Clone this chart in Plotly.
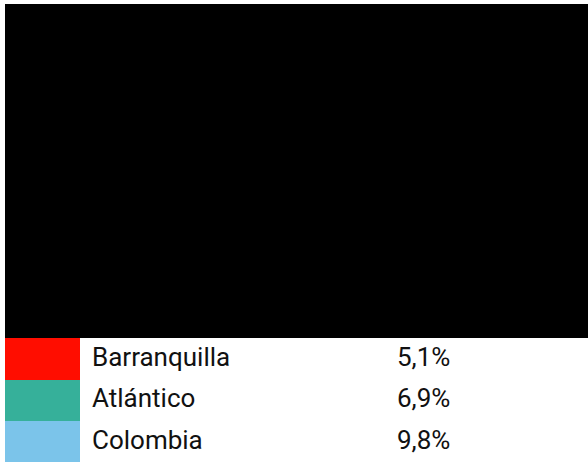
import plotly.graph_objects as go

labels = ["Barranquilla", "Atlántico", "Colombia"]
values = ["5,1%", "6,9%", "9,8%"]
colors = ["#ff0d00", "#36b09a", "#7bc4ea"]

fig = go.Figure()

# empty plot area (rendered black in the reference)
fig.add_trace(go.Scatter(x=[], y=[], showlegend=False, hoverinfo="skip"))

n = len(labels)
fig.add_trace(go.Table(
    domain=dict(x=[0, 1], y=[0, 0.2723]),
    columnwidth=[75, 4, 305, 199],
    header=dict(values=["", "", "", ""], height=0, fill_color="white",
                line=dict(width=0, color="white")),
    cells=dict(
        values=[[""] * n, [""] * n, labels, values],
        fill_color=[colors, ["white"] * n, ["white"] * n, ["white"] * n],
        line=dict(width=0, color="white"),
        height=41.7,
        align="left",
        font=dict(family="Roboto", size=26, color="#111111"),
    ),
))

fig.update_layout(
    width=588, height=463,
    margin=dict(l=5, r=0, t=4, b=0),
    paper_bgcolor="white",
    plot_bgcolor="black",
    xaxis=dict(visible=False, domain=[0, 1]),
    yaxis=dict(visible=False, domain=[0.2723, 1]),
    showlegend=False,
)

fig.write_html("out.html", config={"displayModeBar": False},
               post_script="document.body.style.margin='0';")
